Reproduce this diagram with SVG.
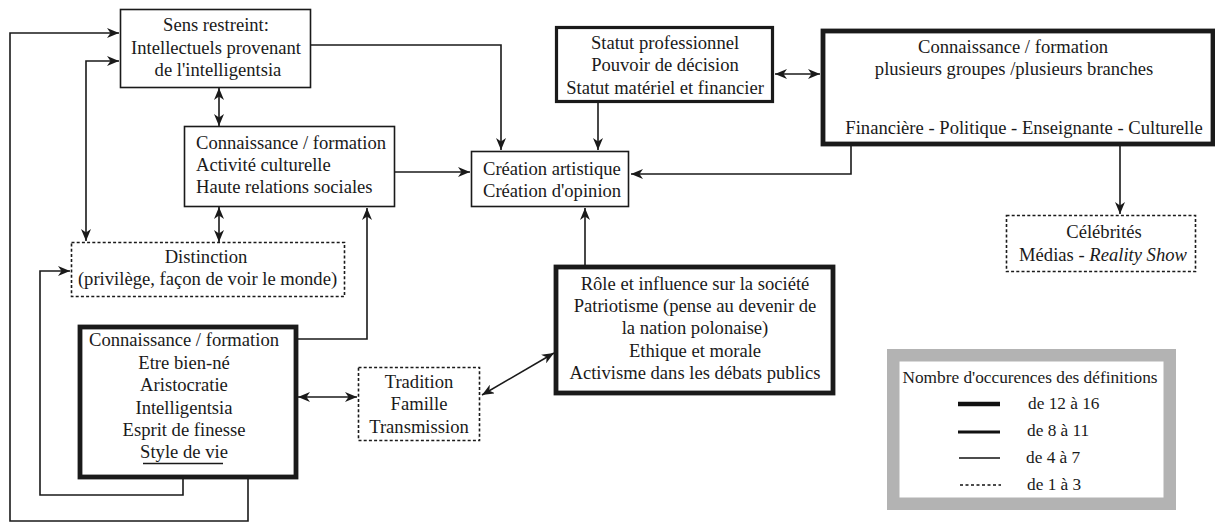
<svg xmlns="http://www.w3.org/2000/svg" width="1215" height="522" viewBox="0 0 1215 522">
<defs>
<style>
text{font-family:"Liberation Serif","Times New Roman",serif;font-size:18.6px;fill:#1a1a1a}
.c{text-anchor:middle}
.box{fill:#fff;stroke:#1a1a1a}
.thin{stroke-width:1.6}
.med{stroke-width:3.2}
.thick{stroke-width:4.8}
.dash{stroke-width:1.6;stroke-dasharray:3 2.2}
.con{fill:none;stroke:#1a1a1a;stroke-width:1.6}
.leg{font-size:17.3px}
</style>
<marker id="ah" markerUnits="userSpaceOnUse" markerWidth="13" markerHeight="10" refX="12" refY="5" orient="auto-start-reverse" viewBox="0 0 13 10">
<path d="M0,0 L12,5 L0,10 L3.5,5 Z" fill="#1a1a1a"/>
</marker>
</defs>
<rect width="1215" height="522" fill="#fff"/>

<g id="connectors">
<path class="con" d="M311,45 H501 V150" marker-end="url(#ah)"/>
<path class="con" d="M219,88 V126" marker-start="url(#ah)" marker-end="url(#ah)"/>
<path class="con" d="M395,172 H470" marker-end="url(#ah)"/>
<path class="con" d="M219,207 V242" marker-start="url(#ah)" marker-end="url(#ah)"/>
<path class="con" d="M298,339 H367 V208" marker-end="url(#ah)"/>
<path class="con" d="M183,463 V495 H40 V271 H70" marker-end="url(#ah)"/>
<path class="con" d="M248,479 V521 H10 V33 H119" marker-end="url(#ah)"/>
<path class="con" d="M119,61 H86 V241" marker-start="url(#ah)" marker-end="url(#ah)"/>
<path class="con" d="M598,103 V150" marker-end="url(#ah)"/>
<path class="con" d="M775,74 H820" marker-start="url(#ah)" marker-end="url(#ah)"/>
<path class="con" d="M851,146 V174 H631" marker-end="url(#ah)"/>
<path class="con" d="M1120,146 V214" marker-end="url(#ah)"/>
<path class="con" d="M585,265 V208" marker-end="url(#ah)"/>
<path class="con" d="M298,397 H357" marker-start="url(#ah)" marker-end="url(#ah)"/>
<path class="con" d="M482,395 L554,353" marker-start="url(#ah)" marker-end="url(#ah)"/>
</g>

<g id="node-sens-restreint">
<rect class="box thin" x="120.5" y="9.5" width="190" height="78"/>
<text class="c" x="216" y="31">Sens restreint:</text>
<text class="c" x="216" y="54">Intellectuels provenant</text>
<text class="c" x="218" y="76">de l'intelligentsia</text>
</g>

<g id="node-connaissance-culture">
<rect class="box thin" x="184.5" y="126.5" width="210" height="80"/>
<text x="196" y="149">Connaissance / formation</text>
<text x="196" y="171">Activité culturelle</text>
<text x="196" y="193">Haute relations sociales</text>
</g>

<g id="node-distinction">
<rect class="box dash" x="71.5" y="242.5" width="273" height="54"/>
<text class="c" x="206" y="263">Distinction</text>
<text class="c" x="207.5" y="285">(privilège, façon de voir le monde)</text>
</g>

<g id="node-connaissance-naissance">
<rect class="box thick" x="80" y="327" width="216" height="150"/>
<text class="c" x="184" y="346">Connaissance / formation</text>
<text class="c" x="184" y="369">Etre bien-né</text>
<text class="c" x="184" y="391">Aristocratie</text>
<text class="c" x="184" y="414">Intelligentsia</text>
<text class="c" x="184" y="436">Esprit de finesse</text>
<text class="c" x="184" y="458">Style de vie</text>
<line x1="143" y1="463.5" x2="223" y2="463.5" stroke="#1a1a1a" stroke-width="1.3"/>
</g>

<g id="node-tradition">
<rect class="box dash" x="358.5" y="367.5" width="121" height="73"/>
<text class="c" x="419" y="388">Tradition</text>
<text class="c" x="419" y="410">Famille</text>
<text class="c" x="419" y="433">Transmission</text>
</g>

<g id="node-creation">
<rect class="box thin" x="471.5" y="151.5" width="157" height="55"/>
<text x="483" y="175">Création artistique</text>
<text x="483" y="197">Création d'opinion</text>
</g>

<g id="node-statut">
<rect class="box med" x="556.5" y="27.5" width="216" height="74"/>
<text class="c" x="665" y="49">Statut professionnel</text>
<text class="c" x="665" y="71">Pouvoir de décision</text>
<text class="c" x="665" y="94">Statut matériel et financier</text>
</g>

<g id="node-connaissance-groupes">
<rect class="box thick" x="823" y="31" width="390" height="113"/>
<text class="c" x="1013" y="53">Connaissance / formation</text>
<text class="c" x="1014" y="75">plusieurs groupes /plusieurs branches</text>
<text class="c" x="1024" y="134">Financière - Politique - Enseignante - Culturelle</text>
</g>

<g id="node-celebrites">
<rect class="box dash" x="1006.5" y="215.5" width="189" height="56"/>
<text class="c" x="1104" y="238">Célébrités</text>
<text class="c" x="1103" y="261">Médias - <tspan font-style="italic">Reality Show</tspan></text>
</g>

<g id="node-role">
<rect class="box thick" x="556" y="267" width="277" height="126"/>
<text class="c" x="695" y="290">Rôle et influence sur la société</text>
<text class="c" x="695" y="312">Patriotisme (pense au devenir de</text>
<text class="c" x="695" y="334">la nation polonaise)</text>
<text class="c" x="695" y="357">Ethique et morale</text>
<text class="c" x="695" y="379">Activisme dans les débats publics</text>
</g>

<g id="legend">
<rect x="893.25" y="355.25" width="276.5" height="148.5" fill="#fff" stroke="#b3b3b3" stroke-width="12.5"/>
<text class="c leg" x="1030" y="383">Nombre d'occurences des définitions</text>
<line x1="958" y1="404" x2="1000" y2="404" stroke="#111" stroke-width="4.5"/>
<text class="leg" x="1028" y="409">de 12 à 16</text>
<line x1="958" y1="432" x2="1000" y2="432" stroke="#111" stroke-width="3"/>
<text class="leg" x="1027" y="436">de 8 à 11</text>
<line x1="959" y1="458" x2="1000" y2="458" stroke="#111" stroke-width="1.5"/>
<text class="leg" x="1026" y="463">de 4 à 7</text>
<line x1="960" y1="485" x2="1001" y2="485" stroke="#111" stroke-width="1.5" stroke-dasharray="3 2.5"/>
<text class="leg" x="1027" y="490">de 1 à 3</text>
</g>
</svg>
